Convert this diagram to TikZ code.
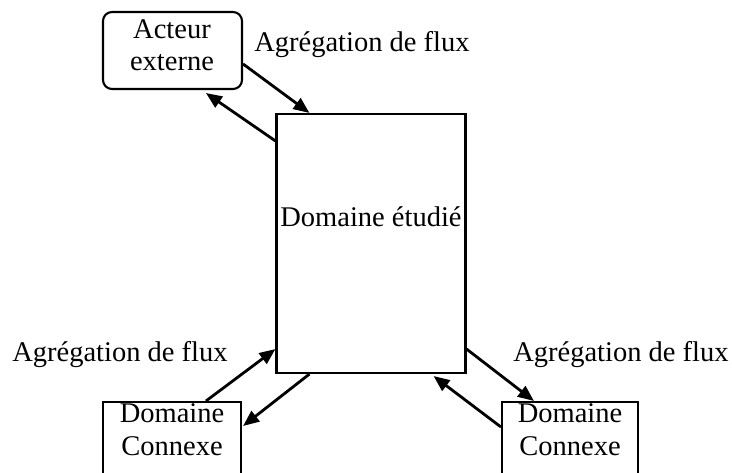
\documentclass[tikz,border=0pt]{standalone}
\usepackage{fontspec}
\setmainfont{Liberation Serif}
\usetikzlibrary{calc,arrows.meta}
\begin{document}
\begin{tikzpicture}[x=1pt,y=-1pt,
  every node/.style={font=\fontsize{28.5}{33}\selectfont, inner sep=0pt},
  boxshape/.style={draw, line width=2.1pt},
  flow/.style={line width=2.8pt, -{Triangle[length=16pt,width=13pt]}},
  txt/.style={anchor=base, align=center}]
\useasboundingbox (0,0) rectangle (732,473);
% boxes
\node[boxshape, rounded corners=9pt, minimum width=139pt, minimum height=77pt] (ext) at (172.5,50.5) {};
\node[boxshape, minimum width=189pt, minimum height=259pt] (main) at (371,243.5) {};
\node[boxshape, minimum width=138pt, minimum height=100pt, anchor=north] (cl) at (172,401) {};
\node[boxshape, minimum width=136pt, minimum height=100pt, anchor=north] (cr) at (570,401) {};
% texts
\node[txt] (t1) at (172,39) {Acteur};
\node[txt] (t2) at (172,71) {externe};
\node[txt] (tm) at (371,227) {Domaine étudié};
\node[txt] (t3) at (172,423) {Domaine};
\node[txt] (t4) at (172,456) {Connexe};
\node[txt] (t5) at (570,423) {Domaine};
\node[txt] (t6) at (570,456) {Connexe};
\node[txt] (l1) at (362,52) {Agrégation de flux};
\node[txt] (l2) at (120,362) {Agrégation de flux};
\node[txt] (l3) at (621,362) {Agrégation de flux};
% arrows
\draw[flow] ($(ext.north east)+(0,53)$) -- ($(main.north west)+(34,0)$);
\draw[flow] ($(main.north west)+(0,28)$) -- ($(ext.south west)+(104,3)$);
\draw[flow] ($(cl.north west)+(104,0)$) -- ($(main.south west)+(0,-25)$);
\draw[flow] ($(main.south west)+(34,0)$) -- ($(cl.north east)+(1,25)$);
\draw[flow] ($(main.south east)+(0,-25)$) -- ($(cr.north west)+(33,0)$);
\draw[flow] ($(cr.north west)+(0,26)$) -- ($(main.south east)+(-33,2)$);
\end{tikzpicture}
\end{document}
